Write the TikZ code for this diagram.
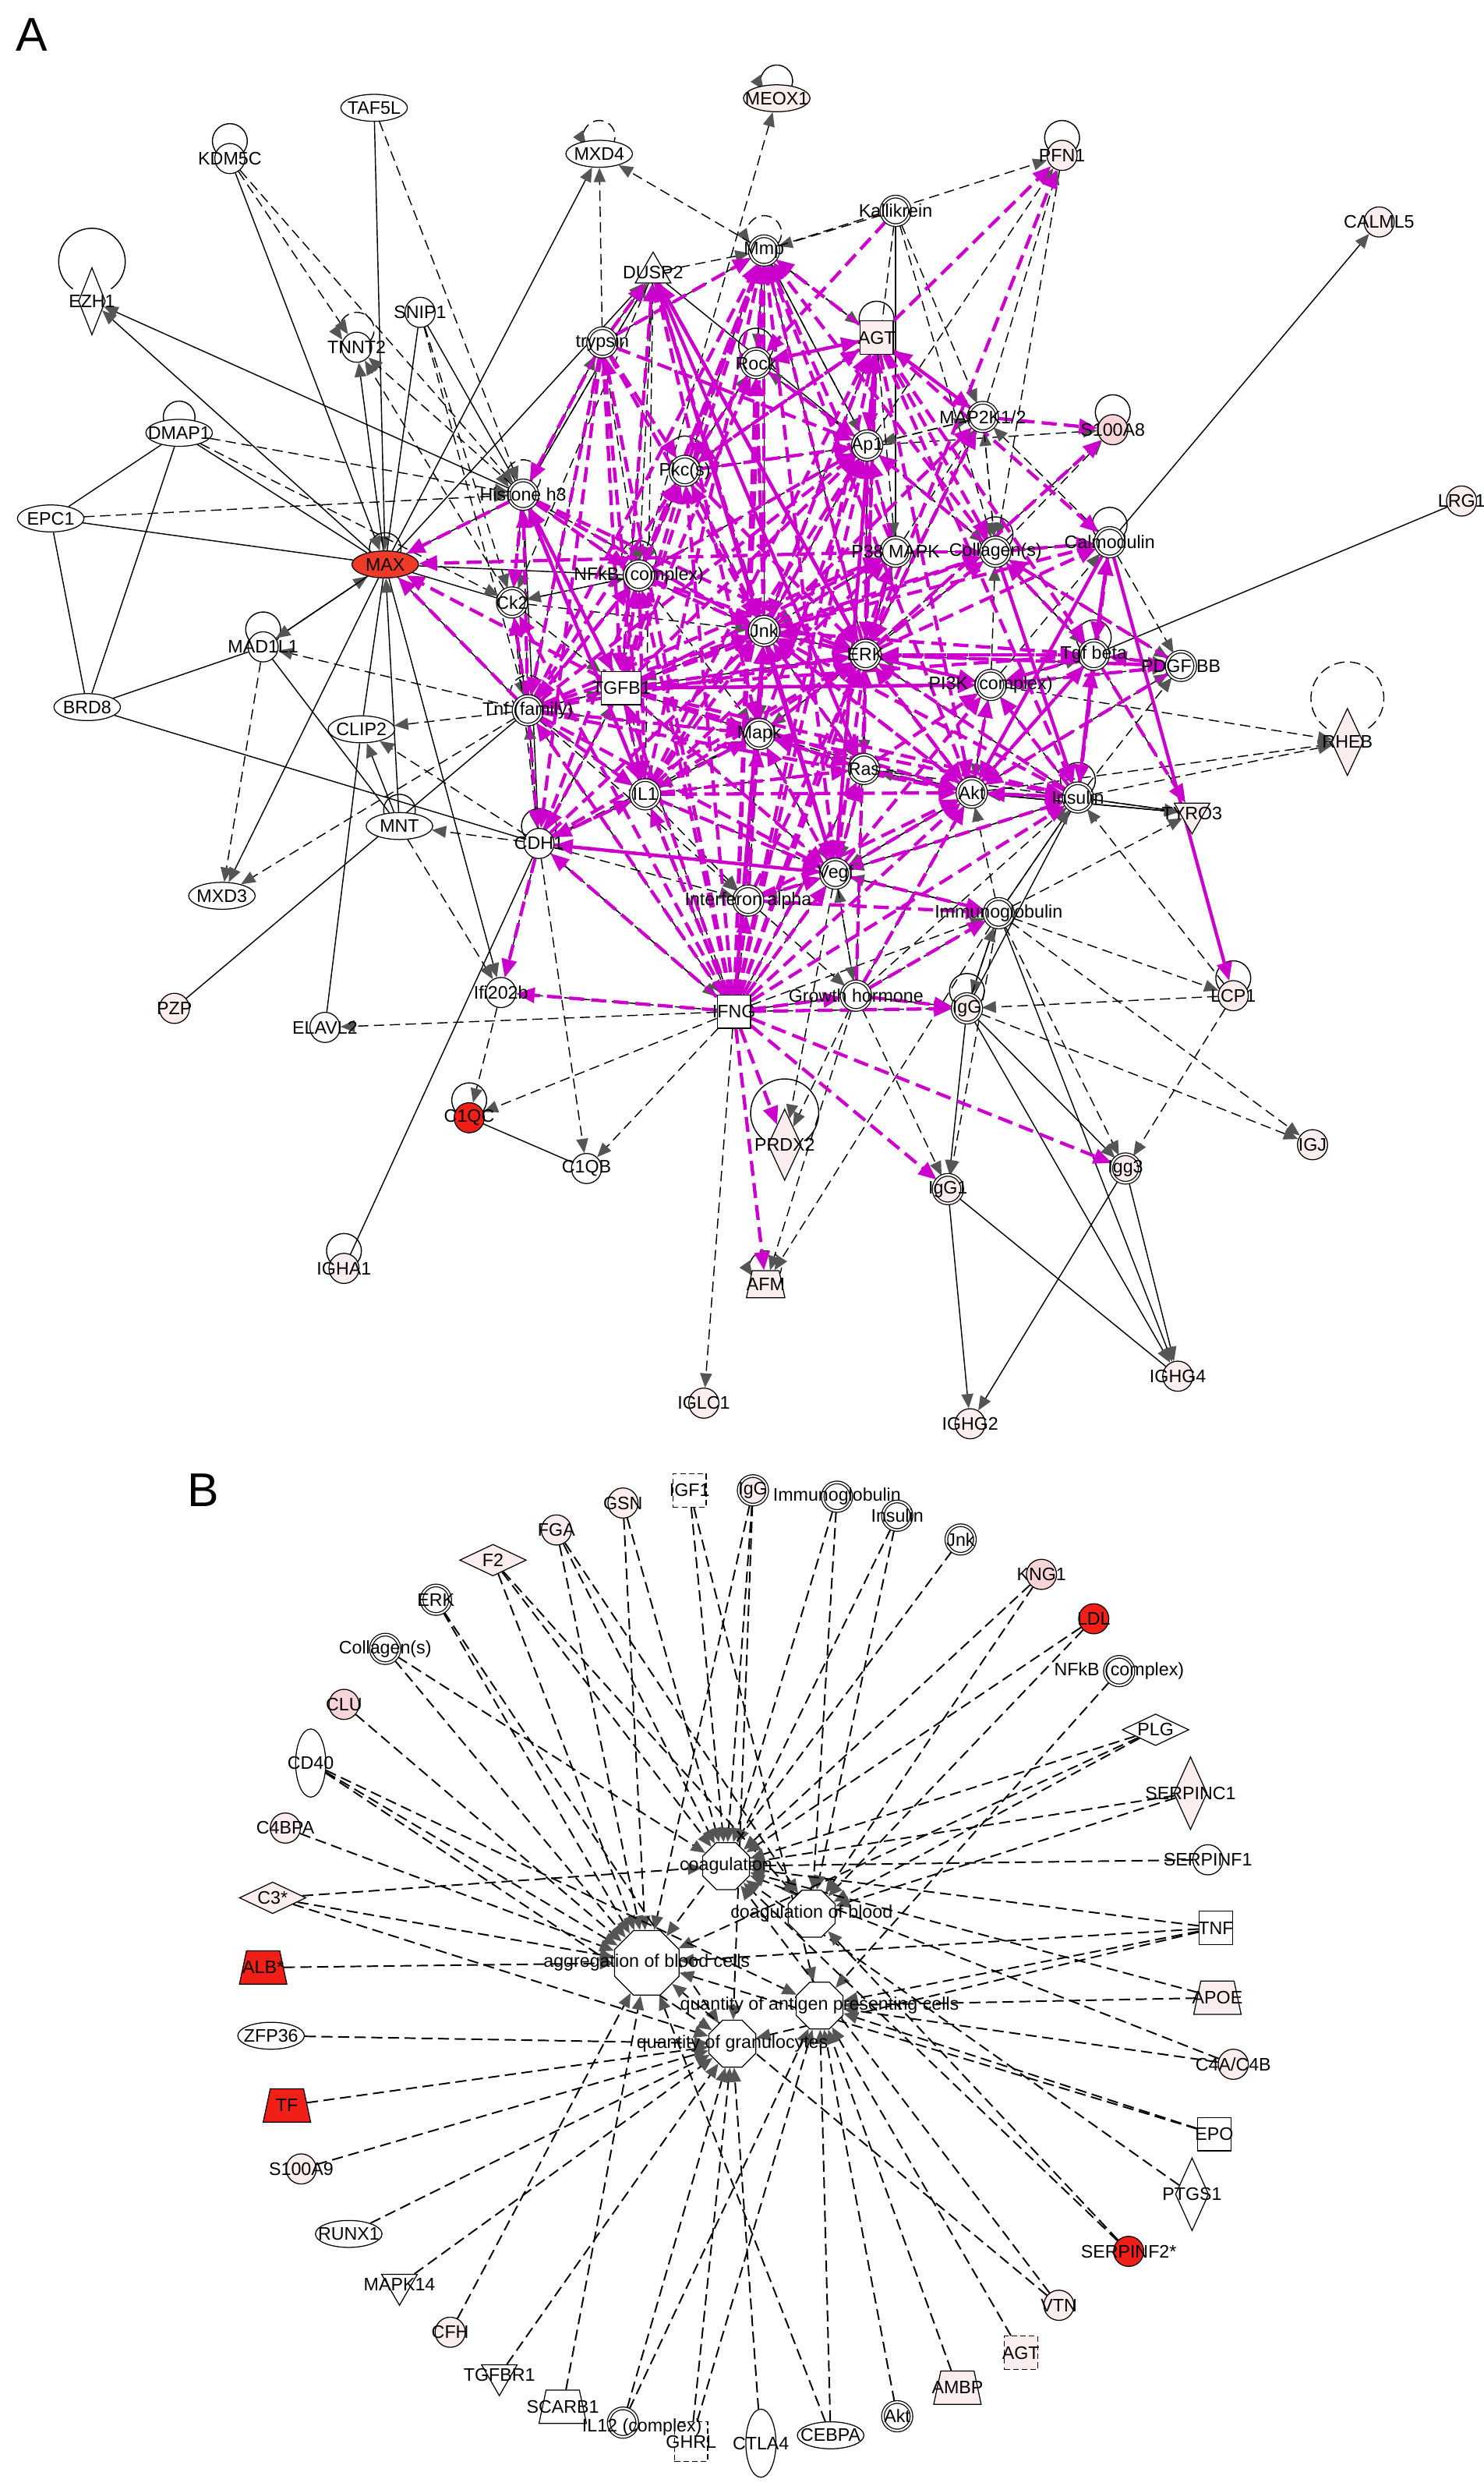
\documentclass[tikz,border=0pt]{standalone}
\usepackage{fontspec}
\setmainfont{Liberation Sans}
\usetikzlibrary{arrows.meta,shapes.geometric}
\definecolor{mag}{RGB}{204,0,204}
\definecolor{tipg}{RGB}{85,85,85}
\definecolor{pk}{RGB}{251,236,238}
\definecolor{pk2}{RGB}{247,212,215}
\definecolor{rdA}{RGB}{238,58,40}
\definecolor{rdB}{RGB}{240,32,24}
\pgfdeclarelayer{back}\pgfdeclarelayer{bg}\pgfdeclarelayer{top}
\pgfsetlayers{back,bg,main,top}
\newcommand\gnode[4]{\node[#1] (#2) at (#3) {};\begin{pgfonlayer}{top}\node[lbl] at (#2.center) {#4};\end{pgfonlayer}}
\newcommand\selfloop[4][ln]{\begin{pgfonlayer}{bg}\draw[#1] ([yshift=#3]#2.center) ++(-55:#4) arc[start angle=-55,end angle=235,radius=#4];\end{pgfonlayer}}
\newcommand\selfloopa[4][ln]{\begin{pgfonlayer}{bg}\draw[#1,ar] ([yshift=#3]#2.center) ++(-40:#4) arc[start angle=-40,end angle=215,radius=#4];\end{pgfonlayer}}
\newcommand\fanout[3]{\foreach \vv in {#3}{\draw[#1] (#2) -- (\vv);}}
\tikzset{
 lbl/.style={font=\fontsize{6.5}{7}\selectfont, inner sep=0pt},
 base/.style={draw=black, line width=0.35pt, fill=white, inner sep=0pt},
 cir/.style={base, circle, minimum size=3.8mm},
 grp/.style={base, circle, minimum size=3.6mm, double, double distance=0.6pt},
 ell/.style={base, ellipse, minimum width=8.4mm, minimum height=3.4mm},
 sq/.style={base, rectangle, minimum size=4.2mm},
 dsq/.style={sq, dash pattern=on 0.7mm off 0.4mm},
 tri/.style={base, regular polygon, regular polygon sides=3, minimum size=5.2mm},
 trid/.style={tri, shape border rotate=180},
 vdia/.style={base, diamond, minimum width=3.4mm, minimum height=8.5mm},
 hdia/.style={base, diamond, minimum width=8.4mm, minimum height=4mm},
 tell/.style={base, ellipse, minimum width=3.8mm, minimum height=8.6mm},
 trap/.style={base, trapezium, trapezium left angle=78, trapezium right angle=78, inner sep=0.1mm, minimum width=1.4mm, minimum height=4.2mm},
 fn/.style={base, regular polygon, regular polygon sides=8, minimum size=6.4mm},
 ln/.style={draw=black, line width=0.4pt},
 dl/.style={ln, dash pattern=on 1.3mm off 0.7mm},
 dlb/.style={draw=black, line width=0.55pt, dash pattern=on 1.4mm off 0.7mm},
 ar/.style={-{Triangle[length=1.8mm,width=1.5mm,color=tipg]}},
 mgs/.style={draw=mag, line width=1.2pt, -{Triangle[length=2.3mm,width=1.9mm,color=mag]}},
 mgd/.style={mgs, dash pattern=on 1.9mm off 0.9mm},
 panel/.style={font=\fontsize{17}{17}\selectfont, inner sep=0pt}
}
\begin{document}
\begin{tikzpicture}[x=0.2mm,y=-0.2mm]
\begin{pgfonlayer}{back}\fill[white] (0,0) rectangle (936,1568);\end{pgfonlayer}
\useasboundingbox (0,0) rectangle (936,1568);
\node[panel] (labA) at (20,22) {A};
\node[panel] (labB) at (128,940) {B};
% ---------------- Panel A nodes
\gnode{ell,fill=pk}{meox}{490,62}{MEOX1}
\gnode{ell}{taf}{236,68}{TAF5L}
\gnode{cir,fill=pk}{pfn}{670,98}{PFN1}
\gnode{ell}{mxd4}{378,97}{MXD4}
\gnode{cir}{kdm}{145,100}{KDM5C}
\gnode{grp}{kall}{565,133}{Kallikrein}
\gnode{cir,fill=pk}{calml}{870,140}{CALML5}
\gnode{grp}{mmp}{482,158}{Mmp}
\gnode{tri}{dusp}{412,172}{DUSP2}
\gnode{sq,fill=pk}{agt}{553,213}{AGT}
\gnode{vdia}{ezh}{58,190}{EZH1}
\gnode{cir}{snip}{265,197}{SNIP1}
\gnode{cir}{tnnt}{225,219}{TNNT2}
\gnode{grp}{tryp}{380,216}{trypsin}
\gnode{grp}{rock}{477,229}{Rock}
\gnode{grp}{mapk2}{620,263}{MAP2K1/2}
\gnode{cir,fill=pk2}{s100}{702,271}{S100A8}
\gnode{grp}{ap1}{547,281}{Ap1}
\gnode{grp}{pkc}{432,297}{Pkc(s)}
\gnode{ell}{dmap}{113,273}{DMAP1}
\gnode{grp}{hist}{330,312}{Histone h3}
\gnode{grp}{p38}{565,348}{P38 MAPK}
\gnode{grp}{coll}{628,348}{Collagen(s)}
\gnode{grp}{calm}{700,342}{Calmodulin}
\gnode{cir,fill=pk}{lrg}{922,316}{LRG1}
\gnode{ell}{epc}{32,327}{EPC1}
\gnode{ell,fill=rdA}{max}{243,356}{MAX}
\gnode{grp}{nfkb}{403,363}{NFkB (complex)}
\gnode{grp}{ck2}{323,380}{Ck2}
\gnode{grp}{jnk}{482,398}{Jnk}
\gnode{grp}{erk}{546,413}{ERK}
\gnode{grp}{pi3k}{625,432}{PI3K (complex)}
\gnode{grp}{tgfb}{690,413}{Tgf beta}
\gnode{grp}{pdgf}{745,420}{PDGF BB}
\gnode{cir}{mad}{166,408}{MAD1L1}
\gnode{ell}{brd}{55,446}{BRD8}
\gnode{ell}{clip}{228,460}{CLIP2}
\gnode{sq,minimum width=5mm}{tgfb1}{392,434}{TGFB1}
\gnode{grp}{tnf}{333,448}{Tnf (family)}
\gnode{grp}{mapk}{479,463}{Mapk}
\gnode{vdia,fill=pk,minimum width=4mm}{rheb}{850,468}{RHEB}
\gnode{grp}{ras}{545,485}{Ras}
\gnode{grp}{il1}{407,501}{IL1}
\gnode{grp}{akt}{613,500}{Akt}
\gnode{grp}{ins}{680,503}{Insulin}
\gnode{trid,fill=pk}{tyro}{752,513}{TYRO3}
\gnode{cir}{cdh}{340,532}{CDH1}
\gnode{ell}{mnt}{252,521}{MNT}
\gnode{ell}{mxd3}{140,565}{MXD3}
\gnode{grp}{vegf}{527,551}{Vegf}
\gnode{grp}{ifna}{472,568}{Interferon alpha}
\gnode{grp}{ig}{630,576}{Immunoglobulin}
\gnode{cir}{ifi}{316,626}{Ifi202b}
\gnode{cir,fill=pk}{pzp}{110,636}{PZP}
\gnode{cir}{elav}{205,648}{ELAVL2}
\gnode{cir,fill=pk}{lcp}{778,628}{LCP1}
\gnode{sq}{ifng}{463,638}{IFNG}
\gnode{grp}{gh}{540,628}{Growth hormone}
\gnode{grp,fill=pk}{igg}{610,636}{IgG}
\gnode{cir,fill=rdB}{c1qc}{296,705}{C1QC}
\gnode{vdia,fill=pk,minimum width=4.2mm,minimum height=9mm}{prdx}{495,722}{PRDX2}
\gnode{cir}{c1qb}{370,737}{C1QB}
\gnode{cir,fill=pk}{igj}{828,722}{IGJ}
\gnode{grp,fill=pk}{igg3}{710,737}{Igg3}
\gnode{grp,fill=pk}{igg1}{598,750}{IgG1}
\gnode{cir,fill=pk}{igha}{217,800}{IGHA1}
\gnode{trap,fill=pk,minimum height=3.4mm}{afm}{483,810}{AFM}
\gnode{cir,fill=pk}{iglc}{444,885}{IGLC1}
\gnode{cir,fill=pk}{ighg4}{743,868}{IGHG4}
\gnode{cir,fill=pk}{ighg2}{612,898}{IGHG2}
% loops A
\selfloopa{meox}{2.2mm}{2mm}
\selfloop{pfn}{2.2mm}{2.2mm}
\selfloopa[dl]{mxd4}{2.2mm}{2mm}
\selfloop{kdm}{2.2mm}{2.2mm}
\selfloopa[dl]{mmp}{2.2mm}{2.2mm}
\selfloop{agt}{2.4mm}{2.2mm}
\selfloop{ezh}{5mm}{4.2mm}
\selfloopa[dl]{tnnt}{2.2mm}{2.2mm}
\selfloop{rock}{2.2mm}{2.2mm}
\selfloop{s100}{2.2mm}{2.2mm}
\selfloop{pkc}{2.2mm}{2.2mm}
\selfloop{dmap}{2mm}{2mm}
\selfloop{coll}{2.2mm}{2.2mm}
\selfloop{calm}{2.2mm}{2.2mm}
\selfloop{max}{2mm}{2mm}
\selfloop{nfkb}{2.2mm}{2.2mm}
\selfloop{tgfb}{2.2mm}{2.2mm}
\selfloop{mad}{2.2mm}{2.2mm}
\selfloop[dl]{rheb}{5.5mm}{4.6mm}
\selfloop{ins}{2.2mm}{2.2mm}
\selfloop{cdh}{2.2mm}{2.2mm}
\selfloop{mnt}{2mm}{2mm}
\selfloop{lcp}{2.2mm}{2.2mm}
\selfloop{igg}{2.2mm}{2.2mm}
\selfloop{c1qc}{2.2mm}{2.2mm}
\selfloop{prdx}{4mm}{4.3mm}
\selfloop{igha}{2.2mm}{2.2mm}
\selfloopa[dl]{afm}{2.2mm}{2mm}
\selfloopa[dl]{hist}{2.2mm}{2.2mm}
\selfloop[dl]{tnf}{2.2mm}{2.2mm}
% ---------------- Panel B nodes
\gnode{dsq}{bigf}{435,940}{IGF1}
\gnode{grp,fill=pk}{bigg}{475,940}{IgG}
\gnode{cir,fill=pk}{bgsn}{393,948}{GSN}
\gnode{grp}{bimm}{528,944}{Immunoglobulin}
\gnode{grp}{bins}{566,956}{Insulin}
\gnode{cir,fill=pk}{bfga}{351,965}{FGA}
\gnode{hdia,fill=pk}{bf2}{311,984}{F2}
\gnode{grp}{bjnk}{606,971}{Jnk}
\gnode{cir,fill=pk2}{bkng}{657,993}{KNG1}
\gnode{grp}{berk}{275,1009}{ERK}
\gnode{cir,fill=rdB}{bldl}{690,1021}{LDL}
\gnode{grp}{bcoll}{243,1040}{Collagen(s)}
\gnode{grp}{bnfkb}{706,1054}{NFkB (complex)}
\gnode{cir,fill=pk2}{bclu}{217,1075}{CLU}
\gnode{hdia}{bplg}{729,1091}{PLG}
\gnode{tell}{bcd40}{196,1112}{CD40}
\gnode{vdia,fill=pk,minimum width=4.2mm,minimum height=9.2mm}{bsc1}{751,1131}{SERPINC1}
\gnode{cir,fill=pk}{bc4bpa}{180,1153}{C4BPA}
\gnode{cir}{bsf1}{762,1173}{SERPINF1}
\gnode{hdia,fill=pk}{bc3}{172,1197}{C3*}
\gnode{sq}{btnf}{767,1216}{TNF}
\gnode{trap,fill=rdB}{balb}{166,1241}{ALB*}
\gnode{trap,fill=pk}{bapoe}{768,1260}{APOE}
\gnode{ell}{bzfp}{171,1284}{ZFP36}
\gnode{cir,fill=pk}{bc4a}{778,1302}{C4A/C4B}
\gnode{trap,fill=rdB}{btf}{181,1328}{TF}
\gnode{sq}{bepo}{766,1346}{EPO}
\gnode{cir,fill=pk}{bs100}{190,1368}{S100A9}
\gnode{vdia,minimum width=4.2mm,minimum height=9.2mm}{bptgs}{752,1384}{PTGS1}
\gnode{ell}{brunx}{220,1409}{RUNX1}
\gnode{cir,fill=rdB}{bsf2}{712,1420}{SERPINF2*}
\gnode{trid}{bmapk}{252,1441}{MAPK14}
\gnode{cir,fill=pk}{bvtn}{668,1454}{VTN}
\gnode{cir,fill=pk}{bcfh}{284,1471}{CFH}
\gnode{dsq,fill=pk}{bagt}{644,1484}{AGT}
\gnode{trid}{btgfbr}{315,1498}{TGFBR1}
\gnode{trap,fill=pk}{bambp}{604,1506}{AMBP}
\gnode{trap}{bscarb}{355,1518}{SCARB1}
\gnode{grp}{bil12}{393,1528}{}
\begin{pgfonlayer}{top}\node[lbl] at (405,1531) {IL12 (complex)};\end{pgfonlayer}
\gnode{dsq,minimum height=5mm}{bghrl}{436,1540}{GHRL}
\gnode{tell}{bctla}{480,1541}{CTLA4}
\gnode{ell}{bcebpa}{524,1536}{CEBPA}
\gnode{grp}{bakt}{566,1524}{Akt}
\gnode{fn}{fco}{458,1177}{coagulation}
\gnode{fn}{fcb}{512,1207}{coagulation of blood}
\gnode{fn,minimum size=8.8mm}{fag}{408,1238}{aggregation of blood cells}
\gnode{fn}{fqa}{517,1265}{quantity of antigen presenting cells}
\gnode{fn}{fqg}{462,1289}{quantity of granulocytes}
% ---------------- Edges
\begin{pgfonlayer}{bg}
\foreach \p/\q in {snip/max, dmap/max, epc/max, epc/dmap, epc/brd, dmap/brd, brd/mad, brd/cdh, mad/mnt, clip/max, clip/elav, pzp/tnf, igha/cdh, c1qc/c1qb, lrg/tgfb, tyro/ins, max/hist, snip/hist, max/ck2, akt/tyro, hist/cdh, hist/tgfb1, erk/pi3k, pi3k/tgfb, akt/ins, mapk/erk, jnk/erk, ras/akt, vegf/ig, ins/ig, ig/igg, igg1/ighg4, calm/coll, tgfb/coll, pdgf/tgfb, ifng/gh, gh/igg, kall/p38, max/nfkb, max/tnf, ins/igg, coll/p38, erk/ap1, tgfb1/erk, dusp/ap1}
 {\draw[ln] (\p) -- (\q);}
\foreach \p/\q in {taf/max, kdm/max, max/ezh, hist/ezh, max/mxd3, max/mxd4, mad/max, max/mad, mnt/clip, max/dusp, hist/dusp, max/tnnt, max/ifi, calm/calml, igg/ighg4, igg3/ighg4, ig/ighg4, igg1/ighg2, igg/igg1, igg3/ighg2, mnt/max, tryp/dusp, ins/akt, tgfb/akt, erk/mmp, jnk/mmp, ap1/mmp, p38/coll, ras/erk, pi3k/akt, vegf/akt, igg/igg3}
 {\draw[ln,ar] (\p) -- (\q);}
\foreach \p/\q in {taf/hist, kdm/hist, snip/ck2, snip/tnf, dmap/hist, dmap/ck2, epc/hist, tnf/mad, tnf/clip, cdh/clip, cdh/mnt, tnf/mxd3, mad/mxd3, mnt/ifi, hist/tnnt, ck2/tnnt, kdm/tnnt, cdh/ifi, ifng/elav, ifi/c1qc, ifng/c1qc, cdh/c1qb, ifng/c1qb, ifng/iglc, gh/afm, ig/afm, gh/prdx, vegf/prdx, ig/igg1, lcp/igg, lcp/igg3, ig/igg3, igg/igj, ig/igj, ins/rheb, akt/rheb, pi3k/rheb, tgfb/pdgf, ig/lcp, mmp/mxd4, tryp/mxd4, kall/mmp, nfkb/meox, mmp/pfn, pfn/coll, ap1/s100, erk/s100, coll/s100, ig/tyro, il1/dusp, lcp/ins, coll/pdgf, calm/pdgf, ins/pdgf, pi3k/pdgf, kall/ap1, kall/mapk2, kall/coll, erk/pdgf, akt/pdgf, tyro/akt}
 {\draw[dl,ar] (\p) -- (\q);}
\fanout{dl,ar}{hist}{ck2,tnf,nfkb,tgfb1,jnk,dusp,tryp}
\fanout{dl,ar}{ck2}{tnf,nfkb,jnk,cdh,tgfb1}
\fanout{dl,ar}{tnf}{ck2,tgfb1,il1,mapk,cdh,ifna,ifng}
\fanout{dl,ar}{cdh}{il1,tgfb1,tnf,ifng,ifna,vegf,mapk}
\fanout{dl,ar}{ifng}{cdh,tgfb1,il1,vegf,ifna,igg,ig,ras,mapk,ifi}
\fanout{dl,ar}{gh}{igg,ig,vegf,akt,ins,erk,igg1}
\fanout{dl,ar}{ig}{igg,akt,ins,vegf}
\fanout{dl,ar}{igg}{ig}
\fanout{dl,ar}{ins}{tyro,pi3k,erk,vegf,tgfb}
\fanout{dl,ar}{akt}{pi3k,tyro,ras,vegf,mapk,erk,tgfb}
\fanout{dl,ar}{pi3k}{erk,tgfb,coll,calm}
\fanout{dl,ar}{erk}{p38,coll,mapk2,pi3k,ras,mapk}
\fanout{dl,ar}{p38}{ap1,mapk2,jnk,erk}
\fanout{dl,ar}{coll}{calm,tgfb,ap1,mapk2}
\fanout{dl,ar}{calm}{tgfb,ins,mapk2}
\fanout{dl,ar}{tgfb}{tyro,ins,pi3k}
\fanout{dl,ar}{ap1}{agt,mapk2,pfn,coll,rock}
\fanout{dl,ar}{rock}{mmp,agt,ap1,pkc}
\fanout{dl,ar}{pkc}{rock,ap1,mmp,nfkb,jnk}
\fanout{dl,ar}{tryp}{mmp,nfkb,hist,tnf}
\fanout{dl,ar}{dusp}{mmp,nfkb,ck2,tgfb1,jnk}
\fanout{dl,ar}{nfkb}{ck2,mapk,tnf,jnk,ap1,pkc}
\fanout{dl,ar}{jnk}{ap1,mapk,ras,tgfb1}
\fanout{dl,ar}{mapk}{ras,vegf,jnk,il1}
\fanout{dl,ar}{ras}{vegf,mapk,ins}
\fanout{dl,ar}{vegf}{ins,ifna,gh}
\fanout{dl,ar}{ifna}{vegf,gh,jnk}
\fanout{dl,ar}{il1}{vegf,ifna,mapk,ras,cdh}
\fanout{dl,ar}{tgfb1}{jnk,il1,mapk,vegf,cdh,tnf}
\fanout{dl,ar}{mapk2}{erk,ap1,coll,pfn}
\fanout{dl,ar}{agt}{mmp,rock,jnk,erk,p38,pkc}
\fanout{dl,ar}{mmp}{agt,rock,ap1}
\fanout{mgd}{ifng}{jnk,erk,mapk,tgfb1,il1,cdh,tnf,vegf,nfkb,hist,akt,ras,ap1,mmp,pkc,ifna,gh,rock,agt,p38,ins,ifi,prdx,afm,igg,igg1,igg3,tryp,ck2}
\fanout{mgd}{tgfb1}{jnk,erk,mapk,max,hist,mmp,ap1,akt,pi3k,vegf,cdh,il1,coll,dusp,pkc,rock,p38,ins,nfkb,tnf,ras,tgfb}
\fanout{mgd}{tnf}{jnk,erk,max,nfkb,mmp,vegf,cdh,akt,p38,hist,ap1,pkc,il1,ck2,mapk}
\fanout{mgd}{il1}{jnk,mmp,vegf,erk,akt,nfkb,p38,agt,ap1,cdh,ras,mapk}
\fanout{mgd}{jnk}{ap1,mmp,agt,p38,coll,erk,pi3k,akt,rock,pkc,dusp,mapk2,calm}
\fanout{mgd}{erk}{ap1,mmp,pfn,mapk2,s100,coll,pi3k,akt,dusp,agt,tgfb,calm,pdgf}
\fanout{mgd}{vegf}{akt,erk,mapk,pi3k,mmp,jnk,ras,ins,ig,cdh}
\fanout{mgd}{akt}{pi3k,ins,tgfb,erk,jnk,mmp}
\fanout{mgd}{agt}{mmp,rock,pfn,ap1,jnk,erk,mapk2,calm,tgfb,akt,ins,vegf,pkc,coll}
\fanout{mgd}{tryp}{tnf,il1,tgfb1,cdh,jnk,mmp,pkc,ap1,hist,dusp}
\fanout{mgd}{hist}{jnk,nfkb,max,tgfb1,erk,ck2}
\fanout{mgd}{nfkb}{jnk,mmp,ap1,erk,pkc,tnf}
\fanout{mgd}{ins}{akt,erk,pi3k,jnk,mapk,tgfb,calm}
\fanout{mgd}{pdgf}{akt,erk,pi3k,tgfb,coll}
\fanout{mgd}{tgfb}{tyro,akt,jnk,erk,ins,pi3k,coll,calm}
\fanout{mgd}{p38}{ap1,mmp,coll,erk,max}
\fanout{mgd}{coll}{mmp,ap1,calm}
\fanout{mgd}{rock}{mmp,agt,pkc,ap1}
\fanout{mgd}{pkc}{mmp,ap1,jnk,erk,agt}
\fanout{mgd}{mapk}{erk,jnk,ap1,ras}
\fanout{mgd}{ras}{erk,akt,pi3k,mapk,jnk}
\fanout{mgd}{cdh}{mmp,jnk,erk,vegf,il1,ifi}
\fanout{mgd}{ifna}{jnk,erk,vegf,akt,ig}
\fanout{mgd}{gh}{igg,akt,erk,ig}
\fanout{mgd}{kall}{rock}
\fanout{mgd}{mapk2}{s100,erk,agt}
\fanout{mgd}{dusp}{erk,jnk,mapk}
\foreach \p/\q in {calm/lcp, calm/tgfb, calm/akt, dusp/vegf, dusp/ras, ifng/jnk, tgfb1/pi3k, hist/il1, erk/dusp, agt/vegf, jnk/vegf, coll/ins}
 {\draw[mgs] (\p) -- (\q);}
\foreach \p/\q in {bigf/fco, bigf/fqa, bigg/fco, bigg/fqg, bigg/fag, bgsn/fco, bgsn/fag, bimm/fco, bimm/fcb, bins/fco, bins/fcb, bfga/fco, bfga/fcb, bfga/fag, bf2/fco, bf2/fcb, bf2/fag, bjnk/fag, bkng/fco, bkng/fcb, berk/fag, berk/fqg, bldl/fco, bldl/fcb, bcoll/fco, bcoll/fag, bnfkb/fqa, bclu/fag, bplg/fco, bplg/fcb, bplg/fag, bcd40/fag, bcd40/fqg, bcd40/fqa, bsc1/fco, bsc1/fcb, bc4bpa/fag, bsf1/fco, bc3/fco, bc3/fag, bc3/fqg, btnf/fco, btnf/fqa, btnf/fag, btnf/fqg, balb/fag, bapoe/fqa, bapoe/fco, bzfp/fqg, bc4a/fco, bc4a/fqa, btf/fqg, bepo/fqa, bepo/fag, bs100/fqg, bptgs/fco, brunx/fqg, bsf2/fco, bsf2/fcb, bmapk/fqg, bvtn/fco, bvtn/fag, bcfh/fag, bagt/fqa, btgfbr/fqg, bambp/fqa, bscarb/fag, bil12/fqg, bil12/fqa, bghrl/fqg, bghrl/fqa, bakt/fqa, bcebpa/fqa, bcebpa/fag, bctla/fqg}
 {\draw[dlb,ar] (\p) -- (\q);}
\end{pgfonlayer}
\end{tikzpicture}
\end{document}
